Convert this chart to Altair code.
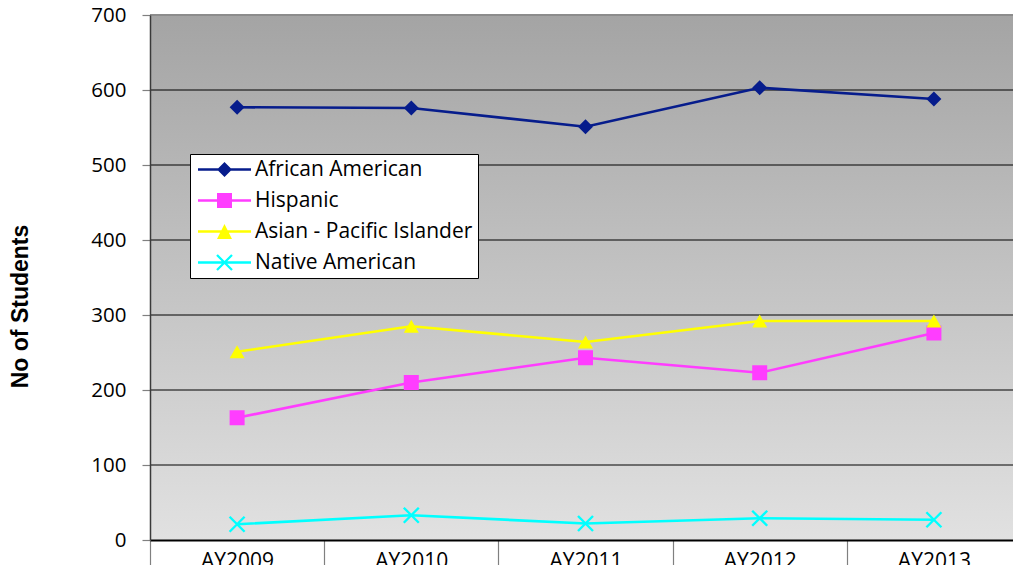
import altair as alt
import pandas as pd

# ---- data ----
years = ["AY2009", "AY2010", "AY2011", "AY2012", "AY2013"]
series_names = ["African American", "Hispanic", "Asian - Pacific Islander", "Native American"]
african_american = [577, 576, 551, 603, 588]
hispanic = [163, 210, 243, 223, 276]
asian_pacific = [251, 285, 264, 292, 292]
native_american = [21, 33, 22, 29, 27]
y_ticks = [0, 100, 200, 300, 400, 500, 600, 700]

# ---- styles ----
series_colors = ["#061c8c", "#ff3dff", "#ffff00", "#00ffff"]
marker_shapes = ["diamond", "square", "triangle-up", "M-1,-1L1,1M-1,1L1,-1"]
marker_filled = [True, True, True, False]

FONT = "Open Sans"
FS = 21
FS_Y = 20.5

# legend symbols: line + marker drawn as one filled path.
# Symbol nominal size equals the label font size, so path units = FS/2 px.
LEG_SYM = FS * FS
u = FS / 2.0
def U(px):
    return round(px / u, 4)

line_l, line_r, line_h = U(-7.5), U(45.5), U(1.3)
mx, m, t = U(19.0), U(7.5), U(0.81)
line_part = f"M{line_l},{-line_h}H{line_r}V{line_h}H{line_l}Z"
legend_paths = [
    line_part + f"M{mx},{-m}L{mx+m},0L{mx},{m}L{mx-m},0Z",
    line_part + f"M{mx-m},{-m}H{mx+m}V{m}H{mx-m}Z",
    line_part + f"M{mx},{-m}L{mx+m},{m}H{mx-m}Z",
    line_part
    + f"M{mx-m+t},{-m-t}L{mx+m+t},{m-t}L{mx+m-t},{m+t}L{mx-m-t},{-m+t}Z"
    + f"M{mx-m+t},{m+t}L{mx-m-t},{m-t}L{mx+m-t},{-m-t}L{mx+m+t},{-m+t}Z",
]

W, H = 863, 525        # visible plot area (page is 1021 wide)
XR = 871               # full band range; the last few px run past the page edge

rows = []
for name, vals in zip(series_names, [african_american, hispanic, asian_pacific, native_american]):
    for yr, v in zip(years, vals):
        rows.append({"year": yr, "series": name, "students": v})
df = pd.DataFrame(rows)

x_enc = alt.X(
    "year:N",
    sort=years,
    scale=alt.Scale(domain=years, paddingInner=0, paddingOuter=0, range=[0, XR]),
    axis=alt.Axis(
        title=None, labelAngle=0, labelFont=FONT, labelFontSize=FS, labelColor="black",
        tickBand="extent", tickSize=30, tickColor="#808080", tickWidth=1.2,
        labelPadding=-20, domainColor="black", domainWidth=2, grid=False, zindex=1,
    ),
)
y_axis = alt.Axis(
    values=y_ticks, grid=False, zindex=1,
    labelFont=FONT, labelFontSize=FS_Y, labelColor="black", labelPadding=16,
    tickColor="#808080", tickSize=8, tickWidth=1.2,
    domainColor="#3a3a3a", domainWidth=1.5,
    title="No of Students", titleFont="Liberation Sans", titleFontWeight="bold",
    titleFontSize=23, titleColor="black", titleAngle=270,
    titleX=-129.5, titleY=291, titleAlign="center", titleBaseline="middle",
)
y_scale = alt.Scale(domain=[0, 700], nice=False, zero=True)
y_enc = alt.Y("students:Q", scale=y_scale, axis=y_axis)

bg = alt.Chart(pd.DataFrame({"bg": [1]})).mark_rect(
    color=alt.Gradient(
        gradient="linear",
        stops=[alt.GradientStop(offset=0, color="#a4a4a4"),
               alt.GradientStop(offset=1, color="#e1e1e1")],
        x1=0, x2=0, y1=0, y2=1,
    )
).encode(x=alt.value(0), x2=alt.value(XR), y=alt.value(0), y2=alt.value(H))

grid = alt.Chart(pd.DataFrame({"students": y_ticks[1:]})).mark_rule().encode(
    y=y_enc,
    color=alt.condition(alt.datum.students == 700, alt.value("#8c8c8c"), alt.value("black")),
    strokeWidth=alt.condition(alt.datum.students == 700, alt.value(2), alt.value(1)),
)

layers = [bg, grid]
for name, col, shp, fil in zip(series_names, series_colors, marker_shapes, marker_filled):
    base = alt.Chart(df).transform_filter(alt.datum.series == name)
    layers.append(base.mark_line(color=col, strokeWidth=2.6).encode(x=x_enc, y=y_enc))
    layers.append(
        base.mark_point(shape=shp, filled=fil, color=col, size=225, opacity=1,
                        strokeWidth=2.4).encode(x=x_enc, y=y_enc)
    )

leg = alt.Legend(
    title=None, orient="none", legendX=40, legendY=139,
    fillColor="white", strokeColor="black", padding=5,
    labelFont=FONT, labelFontSize=FS, labelColor="black", labelLimit=0,
    symbolSize=LEG_SYM, symbolStrokeWidth=0, labelOffset=39, rowPadding=30 - FS,
)
legend_layer = alt.Chart(df).transform_filter("false").mark_point(filled=True, opacity=1).encode(
    color=alt.Color("series:N", scale=alt.Scale(domain=series_names, range=series_colors), legend=leg),
    shape=alt.Shape("series:N", scale=alt.Scale(domain=series_names, range=legend_paths), legend=leg),
)
layers.append(legend_layer)

chart = alt.layer(*layers).properties(
    width=W, height=H,
    autosize=alt.AutoSizeParams(type="none"),
    padding={"left": 142, "top": 7, "right": 0, "bottom": 25},
).configure_view(strokeWidth=0).configure(background="white")

chart.save("out.html", embed_options={"renderer": "svg", "actions": False})
